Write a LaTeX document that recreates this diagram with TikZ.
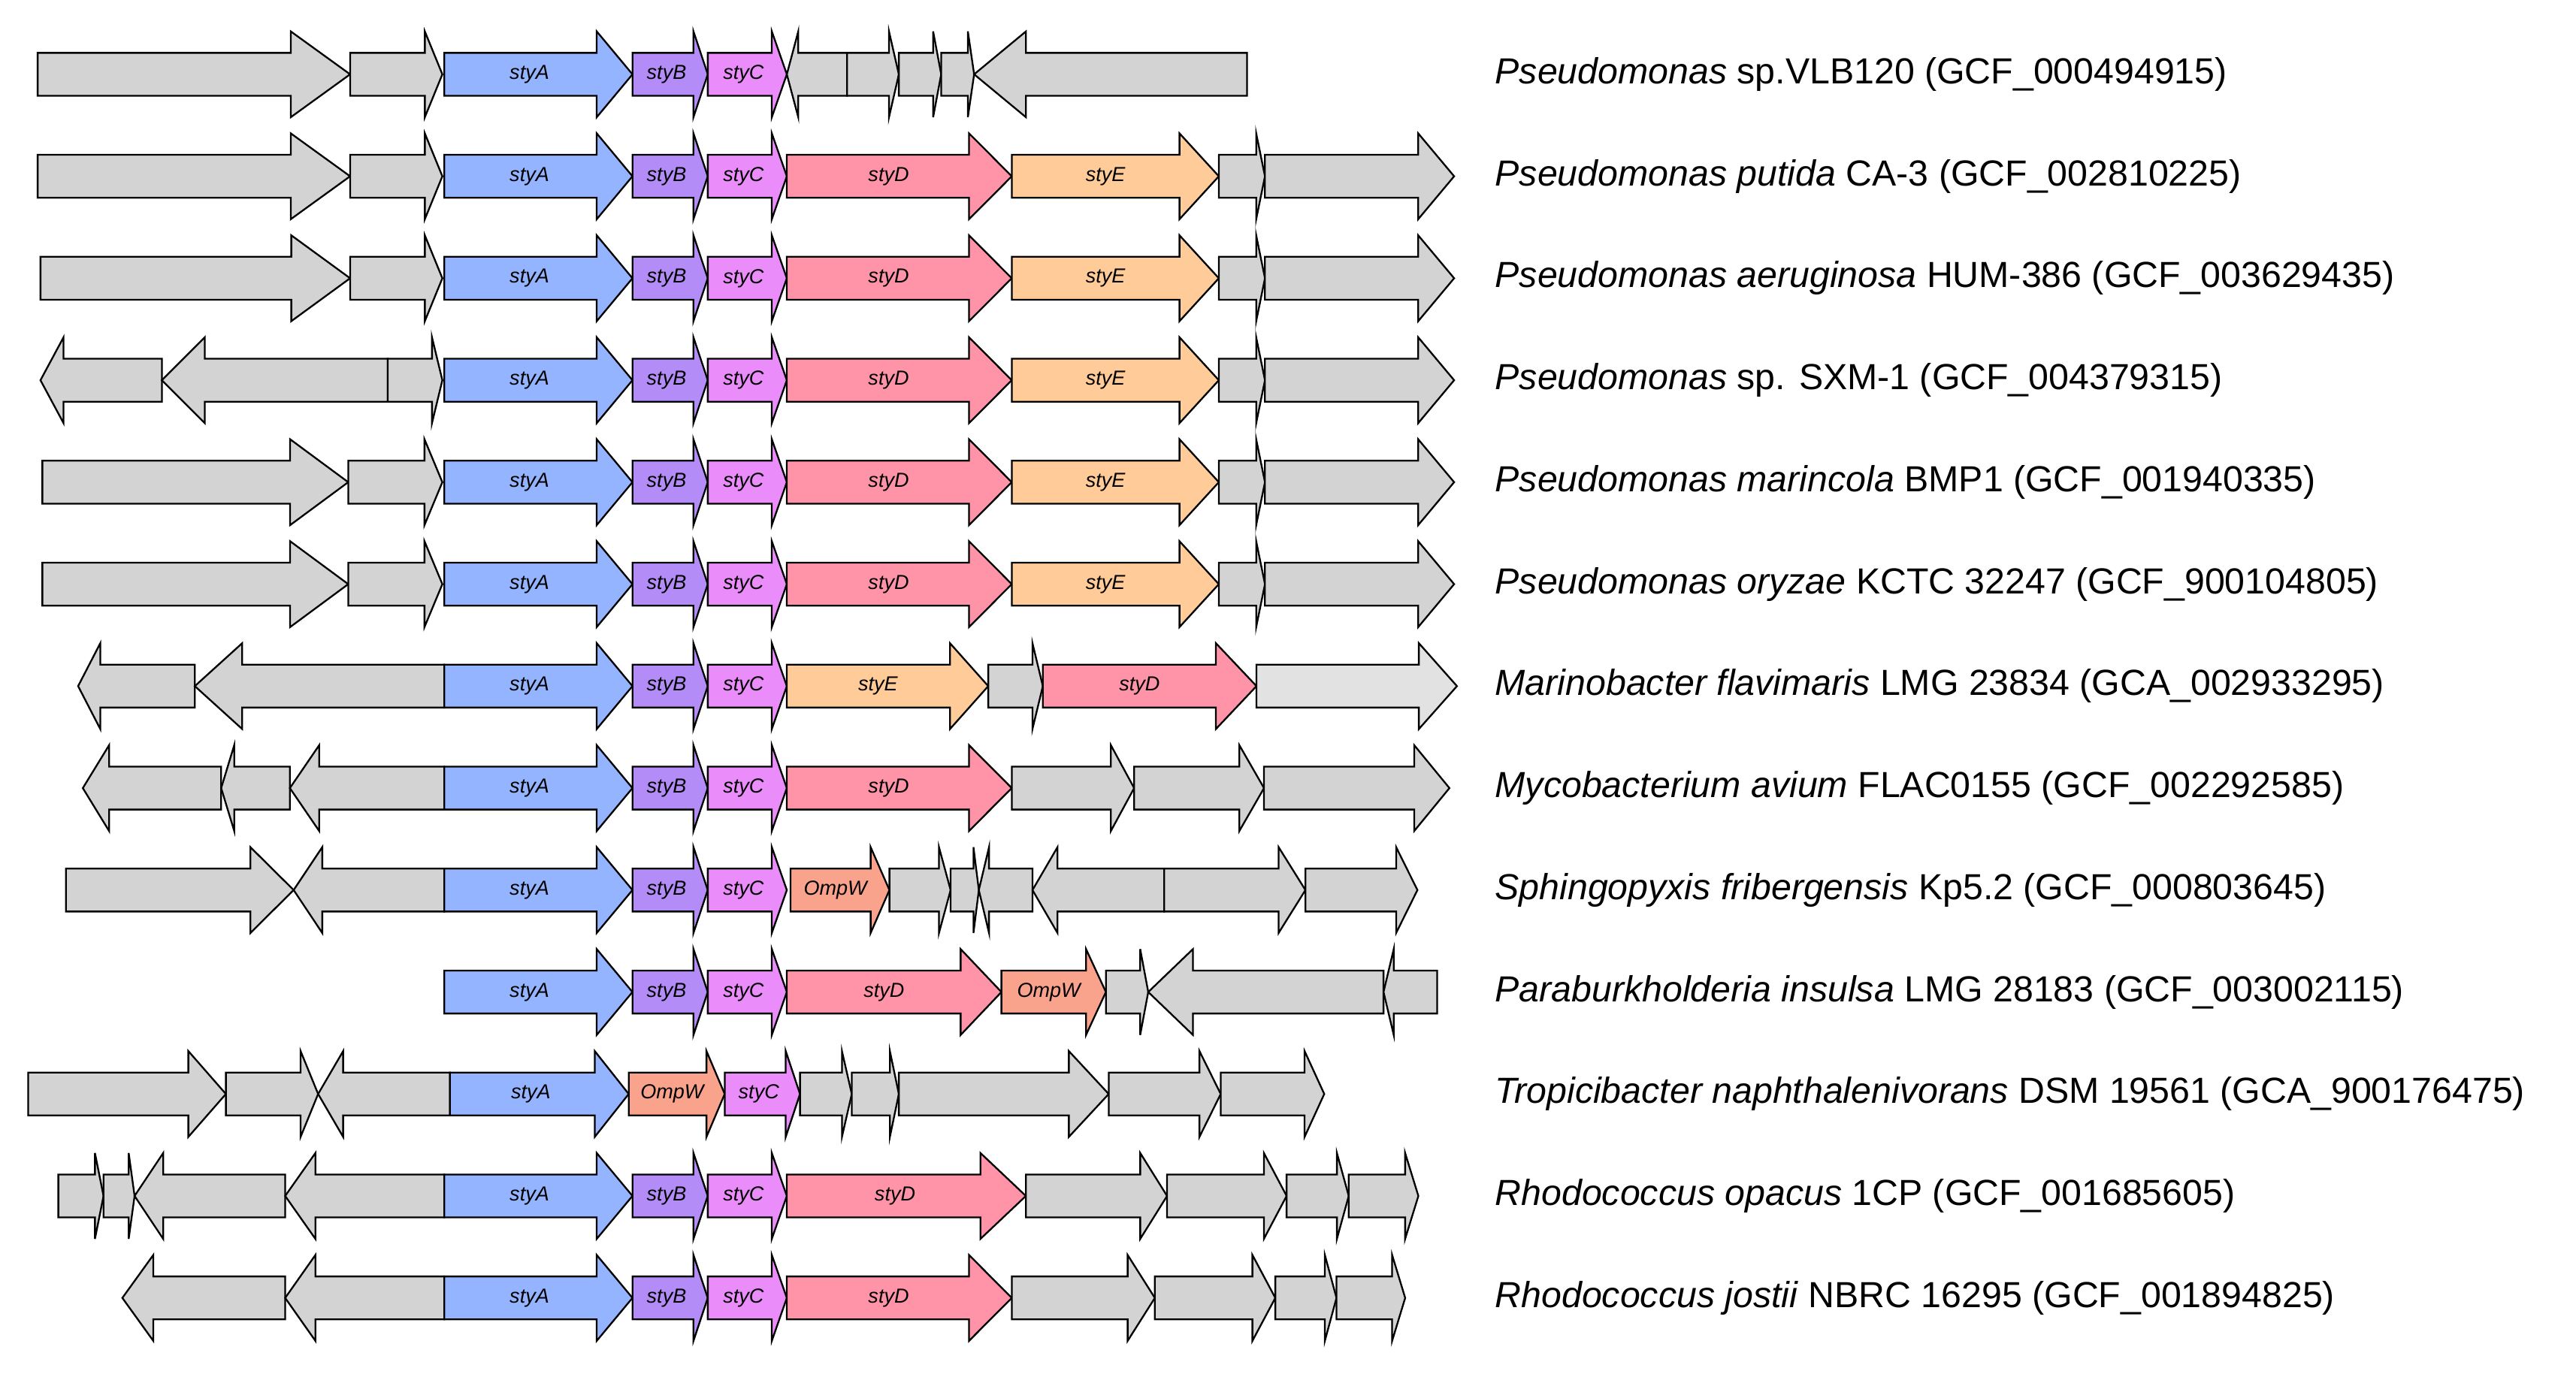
\documentclass[tikz,border=0pt]{standalone}
\usepackage{fontspec}
\setmainfont{Liberation Sans}
\usepackage{tikz}
\usetikzlibrary{positioning}
\definecolor{grey}{HTML}{D3D3D3}
\definecolor{lgrey}{HTML}{E2E2E2}
\definecolor{colA}{HTML}{94B4FF}
\definecolor{colB}{HTML}{B38CF7}
\definecolor{colC}{HTML}{EA8CFA}
\definecolor{colD}{HTML}{FF94A8}
\definecolor{colE}{HTML}{FFCB98}
\definecolor{colW}{HTML}{F9A28C}
\tikzset{gene/.style={draw=black, line width=0.6pt, line join=miter},
         glab/.style={font=\fontsize{7}{8}\selectfont\itshape},
         slab/.style={anchor=west, font=\fontsize{12.5}{14}\selectfont, inner sep=0pt}}
% #1 row, #2 start, #3 end, #4 direction (1 right, -1 left), #5 fill, #6 gene name
\newcommand{\gene}[6]{%
  \pgfmathsetmacro\yc{45+61.75*(#1-1)}%
  \pgfmathsetmacro\hl{0.19*(#3-#2)}%
  \ifnum#4>0
    \filldraw[gene, fill=#5] (#2,\yc-13) -- (#3-\hl,\yc-13) -- (#3-\hl,\yc-26) -- (#3,\yc)
      -- (#3-\hl,\yc+26) -- (#3-\hl,\yc+13) -- (#2,\yc+13) -- cycle;
    \node[glab] at ({(#2+#3)/2-\hl/4},\yc) {#6};
  \else
    \filldraw[gene, fill=#5] (#3,\yc-13) -- (#2+\hl,\yc-13) -- (#2+\hl,\yc-26) -- (#2,\yc)
      -- (#2+\hl,\yc+26) -- (#2+\hl,\yc+13) -- (#3,\yc+13) -- cycle;
    \node[glab] at ({(#2+#3)/2+\hl/4},\yc) {#6};
  \fi}
% common core styA styB styC
\newcommand{\core}[1]{%
  \gene{#1}{472}{672}{1}{colA}{styA}
  \gene{#1}{672}{752}{1}{colB}{styB}
  \gene{#1}{752}{836}{1}{colC}{styC}}

\begin{document}
\begin{tikzpicture}[x=0.0114cm, y=-0.02cm]
  \useasboundingbox (0,0) rectangle (2737,832);

  % row 1
  \gene{1}{40}{372}{1}{grey}{}
  \gene{1}{372}{470}{1}{grey}{}
  \core{1}
  \gene{1}{836}{900}{-1}{grey}{}
  \gene{1}{900}{955}{1}{grey}{}
  \gene{1}{955}{1000}{1}{grey}{}
  \gene{1}{1000}{1035}{1}{grey}{}
  \gene{1}{1035}{1325}{-1}{grey}{}

  % rows 2-6
  \gene{2}{40}{372}{1}{grey}{}
  \gene{2}{372}{470}{1}{grey}{}
  \gene{3}{43}{372}{1}{grey}{}
  \gene{3}{372}{470}{1}{grey}{}
  \gene{4}{43}{172}{-1}{grey}{}
  \gene{4}{172}{412}{-1}{grey}{}
  \gene{4}{412}{470}{1}{grey}{}
  \gene{5}{45}{370}{1}{grey}{}
  \gene{5}{370}{470}{1}{grey}{}
  \gene{6}{45}{370}{1}{grey}{}
  \gene{6}{370}{470}{1}{grey}{}
  \foreach \r in {2,...,6} {
    \core{\r}
    \gene{\r}{836}{1075}{1}{colD}{styD}
    \gene{\r}{1075}{1295}{1}{colE}{styE}
    \gene{\r}{1295}{1344}{1}{grey}{}
    \gene{\r}{1344}{1545}{1}{grey}{}
  }

  % row 7
  \gene{7}{83}{207}{-1}{grey}{}
  \gene{7}{207}{472}{-1}{grey}{}
  \core{7}
  \gene{7}{836}{1050}{1}{colE}{styE}
  \gene{7}{1050}{1108}{1}{grey}{}
  \gene{7}{1108}{1335}{1}{colD}{styD}
  \gene{7}{1335}{1548}{1}{lgrey}{}

  % row 8
  \gene{8}{88}{235}{-1}{grey}{}
  \gene{8}{235}{308}{-1}{grey}{}
  \gene{8}{308}{472}{-1}{grey}{}
  \core{8}
  \gene{8}{836}{1075}{1}{colD}{styD}
  \gene{8}{1075}{1205}{1}{grey}{}
  \gene{8}{1205}{1343}{1}{grey}{}
  \gene{8}{1343}{1540}{1}{grey}{}

  % row 9
  \gene{9}{70}{312}{1}{grey}{}
  \gene{9}{312}{472}{-1}{grey}{}
  \core{9}
  \gene{9}{840}{945}{1}{colW}{OmpW}
  \gene{9}{945}{1010}{1}{grey}{}
  \gene{9}{1010}{1040}{1}{grey}{}
  \gene{9}{1040}{1097}{-1}{grey}{}
  \gene{9}{1097}{1237}{-1}{grey}{}
  \gene{9}{1237}{1387}{1}{grey}{}
  \gene{9}{1387}{1506}{1}{grey}{}

  % row 10
  \core{10}
  \gene{10}{836}{1064}{1}{colD}{styD}
  \gene{10}{1064}{1175}{1}{colW}{OmpW}
  \gene{10}{1175}{1220}{1}{grey}{}
  \gene{10}{1220}{1470}{-1}{grey}{}
  \gene{10}{1470}{1527}{-1}{grey}{}

  % row 11
  \gene{11}{30}{240}{1}{grey}{}
  \gene{11}{240}{338}{1}{grey}{}
  \gene{11}{338}{478}{-1}{grey}{}
  \gene{11}{478}{668}{1}{colA}{styA}
  \gene{11}{668}{770}{1}{colW}{OmpW}
  \gene{11}{770}{850}{1}{colC}{styC}
  \gene{11}{850}{905}{1}{grey}{}
  \gene{11}{905}{955}{1}{grey}{}
  \gene{11}{955}{1178}{1}{grey}{}
  \gene{11}{1178}{1297}{1}{grey}{}
  \gene{11}{1297}{1407}{1}{grey}{}

  % row 12
  \gene{12}{62}{110}{1}{grey}{}
  \gene{12}{110}{143}{1}{grey}{}
  \gene{12}{143}{303}{-1}{grey}{}
  \gene{12}{303}{472}{-1}{grey}{}
  \core{12}
  \gene{12}{836}{1090}{1}{colD}{styD}
  \gene{12}{1090}{1240}{1}{grey}{}
  \gene{12}{1240}{1367}{1}{grey}{}
  \gene{12}{1367}{1433}{1}{grey}{}
  \gene{12}{1433}{1507}{1}{grey}{}

  % row 13
  \gene{13}{130}{303}{-1}{grey}{}
  \gene{13}{303}{472}{-1}{grey}{}
  \core{13}
  \gene{13}{836}{1075}{1}{colD}{styD}
  \gene{13}{1075}{1227}{1}{grey}{}
  \gene{13}{1227}{1355}{1}{grey}{}
  \gene{13}{1355}{1420}{1}{grey}{}
  \gene{13}{1420}{1493}{1}{grey}{}

  % species
  \node[slab] (sp1)  at (1588,45)     {\textit{Pseudomonas} sp.VLB120 (GCF\_000494915)};
  \node[slab] (sp2)  at (1588,106.75) {\textit{Pseudomonas putida} CA-3 (GCF\_002810225)};
  \node[slab] (sp3)  at (1588,168.5)  {\textit{Pseudomonas aeruginosa} HUM-386 (GCF\_003629435)};
  \node[slab] (sp4)  at (1588,230.25) {\textit{Pseudomonas} sp. SXM-1 (GCF\_004379315)};
  \node[slab] (sp5)  at (1588,292)    {\textit{Pseudomonas marincola} BMP1 (GCF\_001940335)};
  \node[slab] (sp6)  at (1588,353.75) {\textit{Pseudomonas oryzae} KCTC 32247 (GCF\_900104805)};
  \node[slab] (sp7)  at (1588,415.5)  {\textit{Marinobacter flavimaris} LMG 23834 (GCA\_002933295)};
  \node[slab] (sp8)  at (1588,477.25) {\textit{Mycobacterium avium} FLAC0155 (GCF\_002292585)};
  \node[slab] (sp9)  at (1588,539)    {\textit{Sphingopyxis fribergensis} Kp5.2 (GCF\_000803645)};
  \node[slab] (sp10) at (1588,600.75) {\textit{Paraburkholderia insulsa} LMG 28183 (GCF\_003002115)};
  \node[slab] (sp11) at (1588,662.5)  {\textit{Tropicibacter naphthalenivorans} DSM 19561 (GCA\_900176475)};
  \node[slab] (sp12) at (1588,724.25) {\textit{Rhodococcus opacus} 1CP (GCF\_001685605)};
  \node[slab] (sp13) at (1588,786)    {\textit{Rhodococcus jostii} NBRC 16295 (GCF\_001894825)};
\end{tikzpicture}
\end{document}
